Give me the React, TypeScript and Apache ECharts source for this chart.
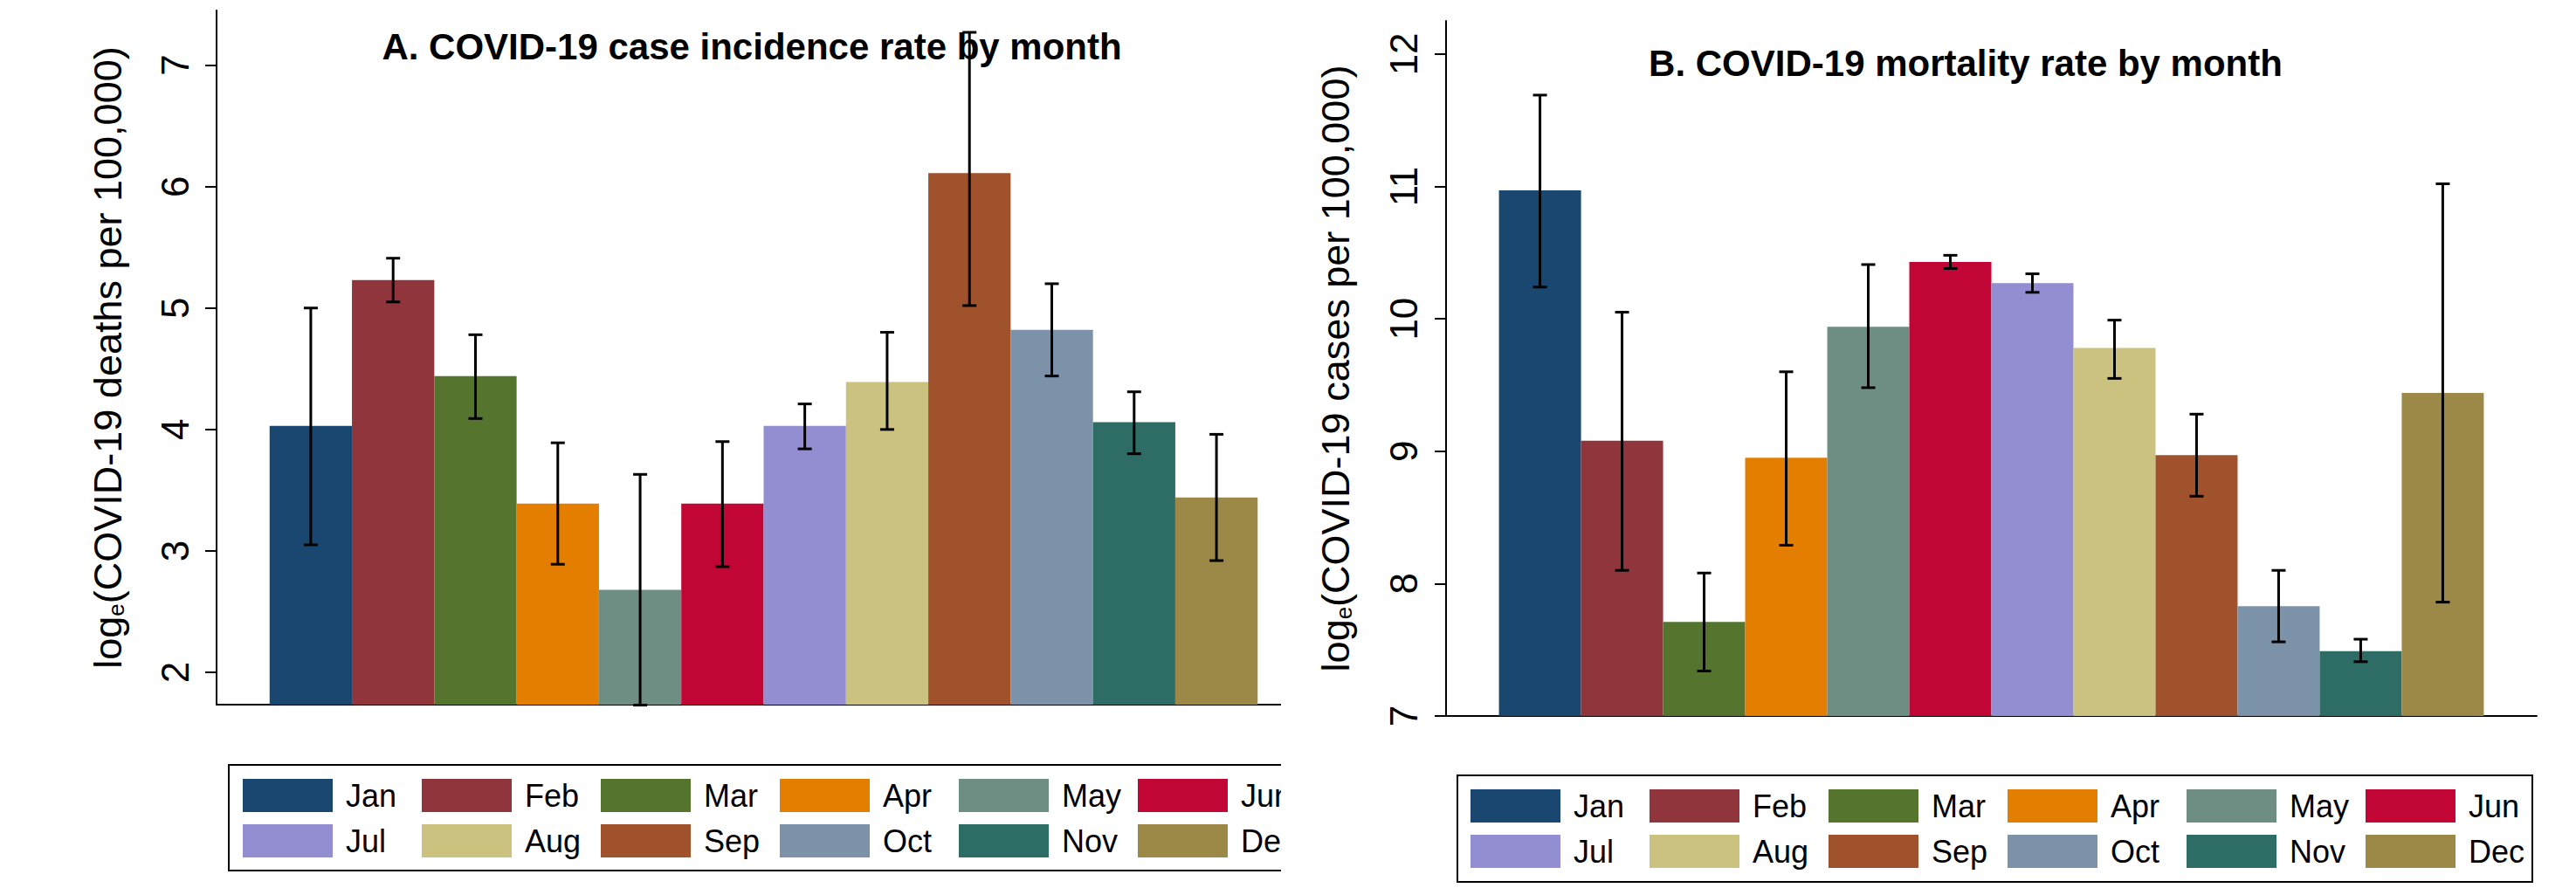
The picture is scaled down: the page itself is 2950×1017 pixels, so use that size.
import React, { useEffect, useRef } from 'react';
import * as echarts from 'echarts';

const months = ['Jan', 'Feb', 'Mar', 'Apr', 'May', 'Jun', 'Jul', 'Aug', 'Sep', 'Oct', 'Nov', 'Dec'];
const monthColors = ['#1a476f', '#90353b', '#55752f', '#e37e00', '#6e8e84', '#c10534', '#938dd2', '#cac27e', '#a0522d', '#7b92a8', '#2d6d66', '#9c8847'];

const incidenceRate = [4.03, 5.23, 4.44, 3.39, 2.68, 3.39, 4.03, 4.39, 6.11, 4.82, 4.06, 3.44];
const incidenceLow = [3.05, 5.05, 4.09, 2.89, 1.73, 2.87, 3.84, 4.0, 5.02, 4.44, 3.8, 2.92];
const incidenceHigh = [5.0, 5.41, 4.78, 3.89, 3.63, 3.9, 4.21, 4.8, 7.27, 5.2, 4.31, 3.96];

const mortalityRate = [10.97, 9.08, 7.71, 8.95, 9.94, 10.43, 10.27, 9.78, 8.97, 7.83, 7.49, 9.44];
const mortalityLow = [10.24, 8.1, 7.34, 8.29, 9.48, 10.38, 10.2, 9.55, 8.66, 7.56, 7.41, 7.86];
const mortalityHigh = [11.69, 10.05, 8.08, 9.6, 10.41, 10.48, 10.34, 9.99, 9.28, 8.1, 7.58, 11.02];

const incidenceTicks = [2, 3, 4, 5, 6, 7];
const mortalityTicks = [7, 8, 9, 10, 11, 12];

const panelTitles = ['A. COVID-19 case incidence rate by month', 'B. COVID-19 mortality rate by month'];
const axisTitleA = '{a|log}{s|e}{a|(COVID-19 deaths per 100,000)}';
const axisTitleB = '{a|log}{s|e}{a|(COVID-19 cases per 100,000)}';

const FONT = '"Liberation Sans", Arial, Helvetica, sans-serif';
const CAT_GAP = 0.097;

function errorSeries(g: number, low: number[], high: number[]) {
  return {
    type: 'custom',
    xAxisIndex: g,
    yAxisIndex: g,
    z: 10,
    silent: true,
    data: low.map((l, i) => [0, l, high[i], i]),
    encode: { x: 0, y: [1, 2] },
    renderItem: (params: any, api: any) => {
      const i = api.value(3);
      const band = api.size([1, 0])[0];
      const barW = (band * (1 - CAT_GAP)) / months.length;
      const lo = api.coord([0, api.value(1)]);
      const hi = api.coord([0, api.value(2)]);
      const cx = lo[0] + (i - (months.length - 1) / 2) * barW;
      const half = 8;
      const style = { stroke: '#000', lineWidth: 3 };
      return {
        type: 'group',
        children: [
          { type: 'line', shape: { x1: cx, y1: hi[1], x2: cx, y2: lo[1] }, style },
          { type: 'line', shape: { x1: cx - half, y1: hi[1], x2: cx + half, y2: hi[1] }, style },
          { type: 'line', shape: { x1: cx - half, y1: lo[1], x2: cx + half, y2: lo[1] }, style },
        ],
      };
    },
  };
}

function barSeries(g: number, values: number[]) {
  return months.map((m, i) => ({
    type: 'bar',
    name: m,
    xAxisIndex: g,
    yAxisIndex: g,
    data: [values[i]],
    barGap: '0%',
    barCategoryGap: CAT_GAP * 100 + '%',
    itemStyle: { color: monthColors[i] },
    silent: true,
  }));
}

function yAxis(g: number, min: number, max: number, ticks: number[], name: string, nameGap: number, margin: number) {
  return {
    type: 'value',
    gridIndex: g,
    min,
    max,
    axisLine: { show: true, lineStyle: { color: '#000', width: 2 } },
    axisTick: { show: true, length: 13, lineStyle: { color: '#000', width: 2 }, customValues: ticks },
    axisLabel: { customValues: ticks, rotate: 90, margin, fontSize: 44, color: '#000', fontFamily: FONT },
    splitLine: { show: false },
    name,
    nameLocation: 'middle',
    nameRotate: 90,
    nameGap,
    nameTextStyle: {
      color: '#000',
      fontFamily: FONT,
      fontSize: 45,
      rich: {
        a: { fontSize: 45, lineHeight: 46, fontFamily: FONT, color: '#000' },
        s: { fontSize: 26, lineHeight: 22, fontFamily: FONT, color: '#000', verticalAlign: 'bottom' },
      },
    },
  };
}

function xAxis(g: number) {
  return {
    type: 'category',
    gridIndex: g,
    data: [''],
    axisLine: { show: true, onZero: false, lineStyle: { color: '#000', width: 2 } },
    axisTick: { show: false },
    axisLabel: { show: false },
    splitLine: { show: false },
  };
}

function legend(left: number, top: number, padding: number[]) {
  return {
    left,
    top,
    width: 1250,
    orient: 'horizontal',
    data: months,
    icon: 'rect',
    itemWidth: 103,
    itemHeight: 38,
    itemGap: 14,
    padding,
    borderColor: '#000',
    borderWidth: 2,
    selectedMode: false,
    textStyle: {
      fontFamily: FONT,
      fontSize: 36,
      color: '#000',
      width: 73,
      lineHeight: 38,
      padding: [0, 0, 0, 10],
    },
  };
}

export default function App() {
  const ref = useRef<HTMLDivElement>(null);
  useEffect(() => {
    if (!ref.current) return;
    const chart = echarts.init(ref.current, undefined, { renderer: 'svg' });
    chart.setOption({
      animation: false,
      backgroundColor: '#fff',
      grid: [
        { left: 248, top: 12, width: 1253, height: 795 },
        { left: 1656, top: 24, width: 1249, height: 796 },
      ],
      xAxis: [xAxis(0), xAxis(1)],
      yAxis: [
        yAxis(0, 1.734, 7.45, incidenceTicks, axisTitleA, 102, 26),
        yAxis(1, 7, 12.25, mortalityTicks, axisTitleB, 104, 27),
      ],
      legend: [legend(262, 876, [16, 0, 15, 16]), legend(1669, 888, [16, 0, 16, 15])],
      series: [
        ...barSeries(0, incidenceRate),
        errorSeries(0, incidenceLow, incidenceHigh),
        ...barSeries(1, mortalityRate),
        errorSeries(1, mortalityLow, mortalityHigh),
      ],
      graphic: [
        { type: 'rect', z: 100, shape: { x: 1467, y: 0, width: 42, height: 1017 }, style: { fill: '#fff' } },
        {
          type: 'text', z: 101, x: 861, y: 53,
          style: { text: panelTitles[0], fontFamily: FONT, fontSize: 42, fontWeight: 'bold', fill: '#000', align: 'center', verticalAlign: 'middle' },
        },
        {
          type: 'text', z: 101, x: 2251, y: 72,
          style: { text: panelTitles[1], fontFamily: FONT, fontSize: 42, fontWeight: 'bold', fill: '#000', align: 'center', verticalAlign: 'middle' },
        },
      ],
    });
    return () => chart.dispose();
  }, []);
  return (
    <div
      ref={ref}
      style={{ position: 'absolute', left: 0, top: 0, width: 2950, height: 1017, background: '#fff' }}
    />
  );
}
